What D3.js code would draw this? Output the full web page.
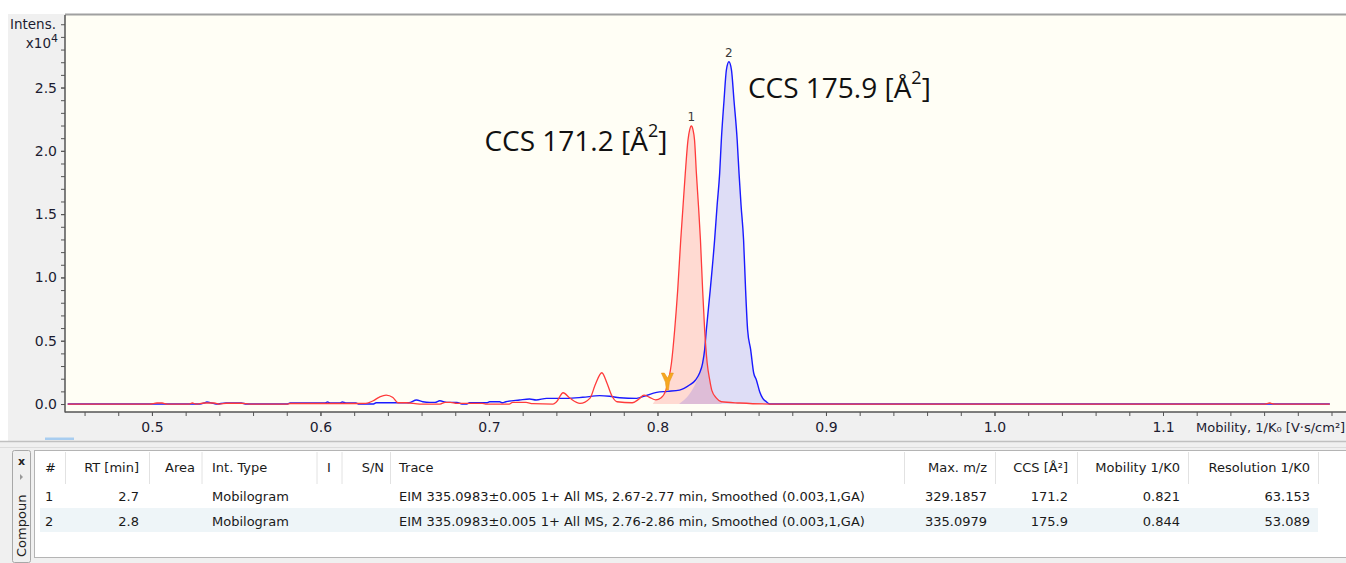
<!DOCTYPE html>
<html><head><meta charset="utf-8">
<script src="https://cdn.jsdelivr.net/npm/d3@7"></script>
<style>html,body{margin:0;padding:0;background:#fff;overflow:hidden}</style>
</head><body>
<svg id="c" width="1346" height="563"></svg>
<script>
// ---------- data ----------
const redTrace = [[0.450,0],[0.4986,0],[0.503,0.008],[0.506,0.008],[0.509,0],[0.522,0],[0.524,0.008],[0.526,0],[0.531,0.008],[0.537,0.008],[0.540,0],[0.544,0.006],[0.553,0.006],[0.558,0],[0.580,0],[0.582,0.004],[0.621,0.004],[0.627,0.005],[0.631,0.024],[0.635,0.055],[0.639,0.071],[0.643,0.051],[0.646,0.01],[0.651,0.01],[0.659,0],[0.671,0],[0.674,0.013],[0.677,0.013],[0.681,0.005],[0.696,0.005],[0.698,0],[0.712,0],[0.714,0.013],[0.722,0.013],[0.726,0.003],[0.738,0],[0.740,0.016],[0.744,0.089],[0.748,0.047],[0.754,0.005],[0.760,0.047],[0.763,0.15],[0.767,0.247],[0.770,0.166],[0.773,0.063],[0.776,0.018],[0.785,0.010],[0.789,0.039],[0.792,0.071],[0.795,0.055],[0.799,0.032],[0.802,0.047],[0.805,0.11],[0.8066,0.19],[0.8083,0.324],[0.8102,0.585],[0.8120,0.90],[0.8138,1.295],[0.8151,1.55],[0.8165,1.822],[0.8181,2.085],[0.8191,2.165],[0.8201,2.196],[0.8211,2.165],[0.8220,2.085],[0.8231,1.822],[0.8244,1.55],[0.8255,1.295],[0.8268,0.90],[0.8280,0.585],[0.8295,0.324],[0.8310,0.19],[0.8322,0.11],[0.8350,0.047],[0.8379,0.018],[0.8488,0.008],[0.8666,0],[1.1603,0],[1.1633,0.008],[1.1662,0],[1.199,0]];
const blueTrace = [[0.450,0],[0.5284,0],[0.531,0.008],[0.5326,0.016],[0.5355,0.008],[0.538,0],[0.544,0.008],[0.553,0.008],[0.556,0],[0.580,0],[0.582,0.008],[0.6025,0.008],[0.6042,0.016],[0.606,0.008],[0.6113,0.008],[0.613,0.016],[0.615,0.008],[0.621,0.008],[0.623,0],[0.6315,0],[0.633,0.01],[0.6525,0.01],[0.657,0.032],[0.6607,0.018],[0.665,0.013],[0.668,0.013],[0.6708,0.026],[0.675,0.013],[0.681,0.013],[0.684,0],[0.6868,0],[0.6885,0.010],[0.6986,0.010],[0.7004,0.018],[0.7063,0.018],[0.7081,0.010],[0.710,0.018],[0.7182,0.032],[0.7241,0.040],[0.728,0.032],[0.7342,0.045],[0.7401,0.045],[0.7461,0.045],[0.7556,0.053],[0.7657,0.066],[0.7716,0.061],[0.7776,0.050],[0.7876,0.045],[0.7924,0.063],[0.7995,0.092],[0.806,0.10],[0.8131,0.11],[0.819,0.15],[0.8226,0.19],[0.825,0.245],[0.8268,0.324],[0.828,0.43],[0.829,0.585],[0.8313,0.90],[0.8339,1.295],[0.8354,1.57],[0.8369,1.822],[0.8379,2.085],[0.8395,2.40],[0.8409,2.64],[0.8424,2.704],[0.8439,2.64],[0.8454,2.40],[0.8473,2.085],[0.8484,1.822],[0.8496,1.57],[0.8511,1.295],[0.8523,0.90],[0.8535,0.585],[0.8553,0.43],[0.8571,0.245],[0.8587,0.19],[0.8607,0.095],[0.8624,0.047],[0.8646,0.018],[0.8666,0],[1.199,0]];

const peakIds = ["1", "2"];
const peakMobility = [0.8201, 0.8424];
const peakIntensity = [2.196, 2.704];
const ccsValues = ["171.2", "175.9"];
// integration fill ranges [start, join, end] in mobility units
const redFill = [0.7972, 0.7972, 0.838];
const blueFill = [0.8128, 0.825, 0.8666];
const markerPos = [0.8059, 0.11];

const xDomain = [0.4484, 1.2086];
const yDomain = [-0.063, 3.073];
const xTickValues = [0.5, 0.6, 0.7, 0.8, 0.9, 1.0, 1.1];
const xTickLabels = ["0.5", "0.6", "0.7", "0.8", "0.9", "1.0", "1.1"];
const yTickValues = [0, 0.5, 1.0, 1.5, 2.0, 2.5];
const yTickLabels = ["0.0", "0.5", "1.0", "1.5", "2.0", "2.5"];
const xAxisTitle = "Mobility, 1/K\u2080 [V\u00b7s/cm\u00b2]";

const tableHeaders = ["#", "RT [min]", "Area", "Int. Type", "I", "S/N", "Trace", "Max. m/z", "CCS [Å²]", "Mobility 1/K0", "Resolution 1/K0"];
const tableRow1 = ["1", "2.7", "", "Mobilogram", "", "", "EIM 335.0983±0.005 1+ All MS, 2.67-2.77 min, Smoothed (0.003,1,GA)", "329.1857", "171.2", "0.821", "63.153"];
const tableRow2 = ["2", "2.8", "", "Mobilogram", "", "", "EIM 335.0983±0.005 1+ All MS, 2.76-2.86 min, Smoothed (0.003,1,GA)", "335.0979", "175.9", "0.844", "53.089"];

// ---------- layout ----------
const W = 1346, H = 563;
const plotL = 65, plotR = 1346, plotT = 15, plotB = 412;
const svg = d3.select("#c");
const x = d3.scaleLinear().domain(xDomain).range([plotL, plotR]);
const y = d3.scaleLinear().domain(yDomain).range([plotB, plotT]);

svg.append("rect").attr("width", W).attr("height", H).attr("fill", "#ffffff");
svg.append("rect").attr("x", 8).attr("y", 14).attr("width", W - 8).attr("height", 428).attr("fill", "#f0f0f0");
svg.append("rect").attr("x", plotL).attr("y", plotT).attr("width", plotR - plotL).attr("height", plotB - plotT).attr("fill", "#fffef5");
svg.append("line").attr("x1", plotL).attr("x2", plotR).attr("y1", 14.5).attr("y2", 14.5).attr("stroke", "#a0a0a0").attr("stroke-width", 2);

svg.append("clipPath").attr("id", "pc").append("rect").attr("x", plotL).attr("y", plotT).attr("width", plotR - plotL).attr("height", plotB - plotT);
const g = svg.append("g").attr("clip-path", "url(#pc)");

function fillPts(trace, f) {
  const pts = [[f[0], 0]];
  trace.forEach(p => { if (p[0] >= f[1] && p[0] <= f[2]) pts.push(p); });
  pts.push([f[2], 0]);
  return pts;
}
const area = d3.area().x(d => x(d[0])).y0(y(0)).y1(d => y(d[1])).curve(d3.curveMonotoneX);
const line = d3.line().x(d => x(d[0])).y(d => y(d[1])).curve(d3.curveMonotoneX);

g.append("path").attr("d", area(fillPts(redTrace, redFill))).attr("fill", "rgba(255,0,0,0.14)");
g.append("path").attr("d", area(fillPts(blueTrace, blueFill))).attr("fill", "rgba(0,0,255,0.13)");
g.append("path").attr("d", line(blueTrace)).attr("fill", "none").attr("stroke", "#1a1aff").attr("stroke-width", 1.4);
g.append("path").attr("d", line(redTrace)).attr("fill", "none").attr("stroke", "#ff3b3b").attr("stroke-width", 1.3);

svg.append("path")
  .attr("transform", `translate(${x(markerPos[0])},${y(markerPos[1])})`)
  .attr("d", "M-6,-17 L-3,-17 L0,-12 L3,-17 L6,-17 L2,-8 L1,0 L-1,0 L-2,-8 Z")
  .attr("fill", "#f6a820").attr("stroke", "#e8941a").attr("stroke-width", 0.6);

// axes
const axisColor = "#555";
const xMinor = d3.range(46, 121, 2).map(v => v / 100);
const yMinor = d3.range(0, 31, 1).map(v => v / 10);
const gx = svg.append("g").attr("transform", `translate(0,${plotB})`)
  .call(d3.axisBottom(x).tickValues(xMinor).tickSize(4).tickFormat(""));
const gx2 = svg.append("g").attr("transform", `translate(0,${plotB})`)
  .call(d3.axisBottom(x).tickValues(xTickValues).tickSize(4).tickPadding(6).tickFormat((d, i) => xTickLabels[i]));
const gy = svg.append("g").attr("transform", `translate(${plotL},0)`)
  .call(d3.axisLeft(y).tickValues(yMinor).tickSize(4).tickFormat(""));
const gy2 = svg.append("g").attr("transform", `translate(${plotL},0)`)
  .call(d3.axisLeft(y).tickValues(yTickValues).tickSize(4).tickPadding(4).tickFormat((d, i) => yTickLabels[i]));
[gx, gx2, gy, gy2].forEach(a => {
  a.select(".domain").remove();
  a.selectAll("line").attr("stroke", axisColor);
  a.selectAll("text").attr("fill", "#1c1c30").style("font-family", "DejaVu Sans").style("font-size", "14px");
});
svg.append("line").attr("x1", plotL).attr("x2", plotL).attr("y1", plotT).attr("y2", plotB + 0.5).attr("stroke", axisColor).attr("stroke-width", 1.5);
svg.append("line").attr("x1", plotL).attr("x2", plotR).attr("y1", plotB).attr("y2", plotB).attr("stroke", axisColor).attr("stroke-width", 1.5);

svg.append("text").attr("x", 56).attr("y", 29).attr("text-anchor", "end")
  .style("font-family", "DejaVu Sans").style("font-size", "13.5px").attr("fill", "#1c1c30").text("Intens.");
const t10 = svg.append("text").attr("x", 58).attr("y", 48).attr("text-anchor", "end")
  .style("font-family", "DejaVu Sans").style("font-size", "13.5px").attr("fill", "#1c1c30");
t10.append("tspan").text("x10");
t10.append("tspan").attr("dy", -6).style("font-size", "11px").text("4");

svg.append("text").attr("x", 1196).attr("y", 432).style("font-family", "DejaVu Sans").style("font-size", "13px")
  .attr("fill", "#1c1c30").text(xAxisTitle);

svg.append("rect").attr("x", 45).attr("y", 437.5).attr("width", 29).attr("height", 2.5).attr("fill", "#a8cdf0");

peakIds.forEach((id, i) => {
  svg.append("text").attr("x", x(peakMobility[i])).attr("y", y(peakIntensity[i]) - 5)
    .attr("text-anchor", "middle").style("font-family", "DejaVu Sans").style("font-size", "12px")
    .attr("fill", "#3a3a3a").text(id);
});

function ccsText(sel, val) {
  sel.append("tspan").text("CCS " + val + " [Å");
  sel.append("tspan").attr("dy", -14).style("font-size", "18px").text("2");
  sel.append("tspan").attr("dy", 14).text("]");
}
const a1 = svg.append("text").attr("x", x(peakMobility[0]) - 24).attr("y", y(peakIntensity[0]) + 25)
  .attr("text-anchor", "end").style("font-family", "Open Sans").style("font-size", "28px").attr("fill", "#111");
ccsText(a1, ccsValues[0]);
const a2 = svg.append("text").attr("x", x(peakMobility[1]) + 19).attr("y", y(peakIntensity[1]) + 36)
  .attr("text-anchor", "start").style("font-family", "Open Sans").style("font-size", "28px").attr("fill", "#111");
ccsText(a2, ccsValues[1]);

// ---------- table panel ----------
svg.append("rect").attr("x", 0).attr("y", 442).attr("width", W).attr("height", H - 442).attr("fill", "#f0f0f0");
svg.append("line").attr("x1", 0).attr("x2", W).attr("y1", 441.5).attr("y2", 441.5).attr("stroke", "#c0c0c0").attr("stroke-width", 1.5);
svg.append("line").attr("x1", 0).attr("x2", W).attr("y1", 447.5).attr("y2", 447.5).attr("stroke", "#dcdcdc").attr("stroke-width", 1);
svg.append("rect").attr("x", 34.5).attr("y", 450.5).attr("width", W - 34).attr("height", 107).attr("fill", "#ffffff")
  .attr("stroke", "#b4b4b4");
svg.append("rect").attr("x", 12.5).attr("y", 450.5).attr("width", 18).attr("height", 112).attr("rx", 2)
  .attr("fill", "#f0f0f0").attr("stroke", "#a8a8a8");
svg.append("text").attr("x", 21.5).attr("y", 465).attr("text-anchor", "middle").style("font-family", "DejaVu Sans")
  .style("font-size", "11px").style("font-weight", "bold").attr("fill", "#222").text("x");
svg.append("path").attr("d", "M20,474 L23,477 L20,480 Z").attr("fill", "#999");
svg.append("text").attr("transform", "translate(26,557) rotate(-90)").style("font-family", "DejaVu Sans")
  .style("font-size", "13px").attr("fill", "#222").text("Compoun");

svg.append("rect").attr("x", 40).attr("y", 508).attr("width", 1278).attr("height", 24).attr("fill", "#eef5f8");

const colSep = [65, 149, 201.5, 316.5, 341.5, 390, 904, 995, 1077, 1188, 1318];
colSep.forEach(cx => svg.append("line").attr("x1", cx + 0.5).attr("x2", cx + 0.5).attr("y1", 452).attr("y2", 484)
  .attr("stroke", "#e2e2e2"));
const colPos = [[45, "start"], [139, "end"], [195, "end"], [212, "start"], [329, "middle"], [384, "end"], [399, "start"],
  [987, "end"], [1068, "end"], [1180, "end"], [1310, "end"]];
function drawRow(vals, yy) {
  vals.forEach((v, i) => {
    if (!v) return;
    svg.append("text").attr("x", colPos[i][0]).attr("y", yy).attr("text-anchor", colPos[i][1])
      .style("font-family", "DejaVu Sans").style("font-size", "13px").attr("fill", "#1a1a1a").text(v);
  });
}
drawRow(tableHeaders, 472);
drawRow(tableRow1, 501);
drawRow(tableRow2, 526);
</script>
</body></html>
